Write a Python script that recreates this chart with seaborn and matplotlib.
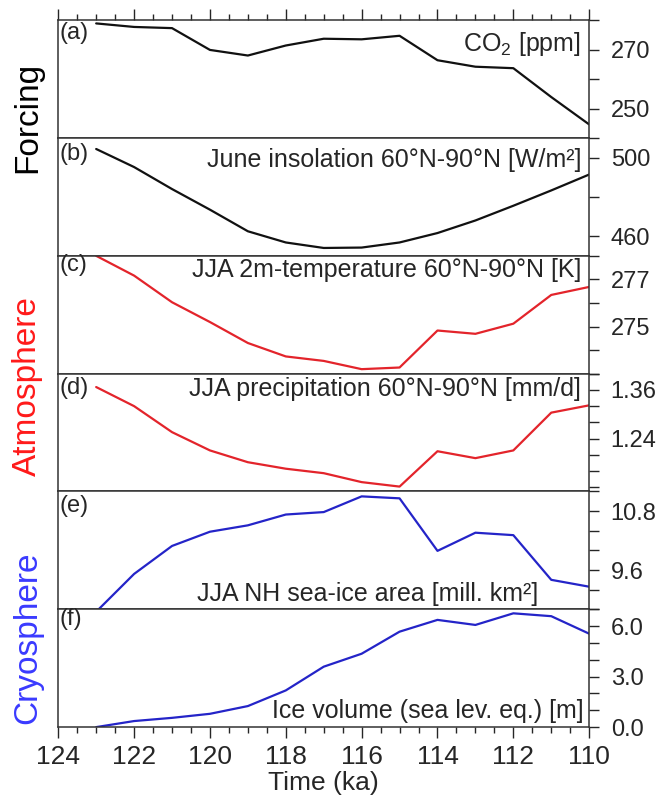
import matplotlib
matplotlib.use("Agg")
import matplotlib.pyplot as plt
import seaborn as sns
import pandas as pd
from matplotlib.ticker import MultipleLocator, FixedLocator, FormatStrFormatter

# time axis (ka before present)
time_ka = [123, 122, 121, 120, 119, 118, 117, 116, 115, 114, 113, 112, 111, 110]

# panel series
co2 = [278.9, 277.7, 277.3, 269.9, 268.0, 271.4, 273.7, 273.5, 274.7, 266.4, 264.2, 263.7, 253.9, 244.6]
insolation = [504.4, 495.2, 484.0, 473.5, 462.5, 456.8, 454.0, 454.2, 456.8, 461.6, 468.0, 475.5, 483.3, 491.4]
t2m = [278.0, 277.16, 276.03, 275.19, 274.30, 273.73, 273.54, 273.19, 273.26, 274.83, 274.69, 275.12, 276.34, 276.68]
precip = [1.367, 1.320, 1.256, 1.211, 1.182, 1.166, 1.155, 1.133, 1.122, 1.209, 1.192, 1.211, 1.304, 1.322]
seaice = [8.75, 9.52, 10.09, 10.38, 10.51, 10.73, 10.78, 11.10, 11.06, 9.99, 10.36, 10.31, 9.40, 9.26]
icevol = [0.0, 0.36, 0.55, 0.79, 1.25, 2.18, 3.59, 4.36, 5.67, 6.37, 6.07, 6.76, 6.59, 5.55]

letters = ["(a)", "(b)", "(c)", "(d)", "(e)", "(f)"]
titles = ["CO$_2$ [ppm]",
          "June insolation 60°N-90°N [W/m²]",
          "JJA 2m-temperature 60°N-90°N [K]",
          "JJA precipitation 60°N-90°N [mm/d]",
          "JJA NH sea-ice area [mill. km²]",
          "Ice volume (sea lev. eq.) [m]"]
ylims = [(240, 280), (450, 510), (273, 278), (1.11, 1.40), (8.8, 11.2), (0, 7)]
yticks = [[250, 270], [460, 500], [275, 277], [1.24, 1.36], [9.6, 10.8], [0, 3, 6]]
yminor = [10, 20, 1, 0.04, 0.4, 1.0]
yfmt = ["%d", "%d", "%d", "%.2f", "%.1f", "%.1f"]
xticks = [124, 122, 120, 118, 116, 114, 112, 110]

sns.set_style("ticks")
plt.rcParams["font.family"] = ["Liberation Sans", "DejaVu Sans"]
plt.rcParams["mathtext.fontset"] = "custom"
plt.rcParams["mathtext.rm"] = "Liberation Sans"
plt.rcParams["mathtext.it"] = "Liberation Sans"

black, red, blue = "#111111", "#e3242b", "#2424c8"
colors = [black, black, red, red, blue, blue]
series = [co2, insolation, t2m, precip, seaice, icevol]
# title placement: (x, y, vertical alignment) in axes fraction
title_pos = [(0.985, 0.80), (0.985, 0.815), (0.985, 0.88), (0.985, 0.87), (0.905, 0.13), (0.99, 0.14)]
letter_y = [0.89, 0.86, 0.92, 0.88, 0.88, 0.92]

fig, axes = plt.subplots(6, 1, figsize=(6.62, 8.07), dpi=100, sharex=True)
fig.subplots_adjust(left=0.088, right=0.89, top=0.975, bottom=0.099, hspace=0)

for i, ax in enumerate(axes):
    df = pd.DataFrame({"time": time_ka, "value": series[i]})
    sns.lineplot(data=df, x="time", y="value", ax=ax, color=colors[i], lw=1.6)
    ax.set_xlim(124, 110)
    ax.set_ylim(*ylims[i])
    ax.set_xlabel("")
    ax.set_ylabel("")
    ax.yaxis.tick_right()
    ax.yaxis.set_major_locator(FixedLocator(yticks[i]))
    ax.yaxis.set_minor_locator(MultipleLocator(yminor[i]))
    ax.yaxis.set_major_formatter(FormatStrFormatter(yfmt[i]))
    ax.tick_params(axis="y", which="major", length=7.5, width=1, labelsize=17, pad=8)
    ax.tick_params(axis="y", which="minor", length=7.5, width=1)
    ax.xaxis.set_major_locator(FixedLocator(xticks))
    ax.xaxis.set_minor_locator(MultipleLocator(0.5))
    ax.tick_params(axis="x", which="both", bottom=False, top=False, labelbottom=False)
    for sp in ax.spines.values():
        sp.set_visible(True)
        sp.set_linewidth(1.1)
        sp.set_color("#333333")
    ax.text(0.003, letter_y[i], letters[i], transform=ax.transAxes, ha="left", va="center", fontsize=17)
    tx, ty = title_pos[i]
    ax.text(tx, ty, titles[i], transform=ax.transAxes, ha="right", va="center", fontsize=18)

axes[0].tick_params(axis="x", which="both", top=True)
axes[0].tick_params(axis="x", which="major", length=8, width=1)
axes[0].tick_params(axis="x", which="minor", length=4, width=1)
axes[-1].tick_params(axis="x", which="both", bottom=True, labelbottom=True)
axes[-1].tick_params(axis="x", which="major", length=8, width=1, labelsize=19, pad=5)
axes[-1].tick_params(axis="x", which="minor", length=4, width=1)
axes[-1].set_xlabel("Time (ka)", fontsize=19, labelpad=1)

fig.text(0.042, 0.855, "Forcing", rotation=90, ha="center", va="center", fontsize=24, color="black")
fig.text(0.042, 0.522, "Atmosphere", rotation=90, ha="center", va="center", fontsize=24, color="#ff1a1a")
fig.text(0.042, 0.21, "Cryosphere", rotation=90, ha="center", va="center", fontsize=24, color="#3a3aff")

fig.savefig("out.png", dpi=100)
